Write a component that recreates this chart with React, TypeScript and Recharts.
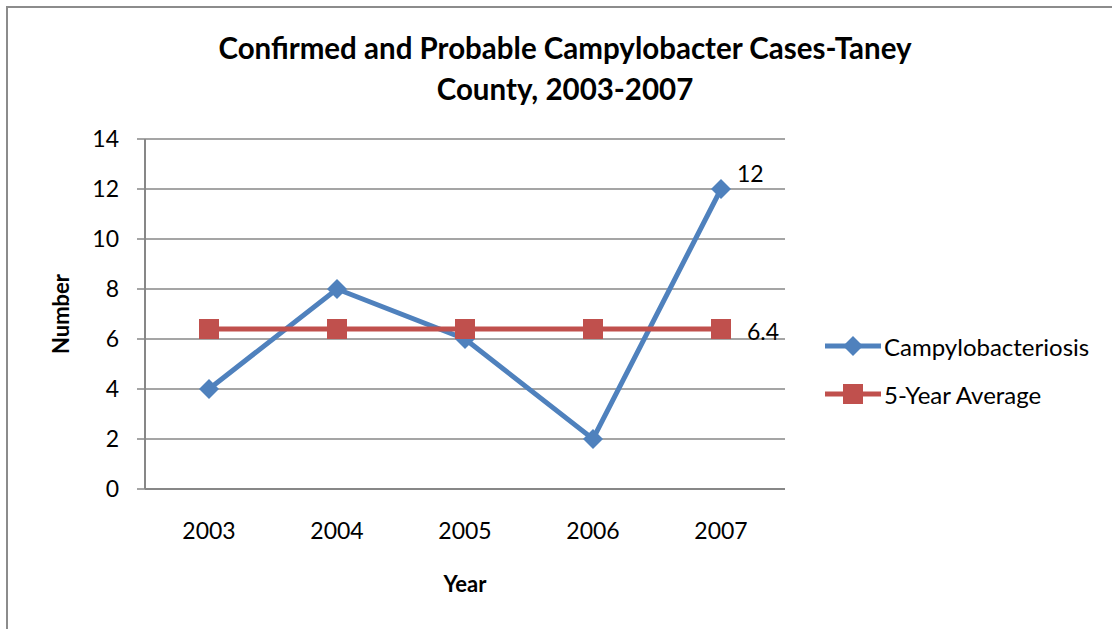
import React from "react";
import { LineChart, Line, XAxis, YAxis, CartesianGrid } from "recharts";

const years = ["2003", "2004", "2005", "2006", "2007"];
const cases = [4, 8, 6, 2, 12];
const fiveYearAvg = [6.4, 6.4, 6.4, 6.4, 6.4];
const yTicks = [0, 2, 4, 6, 8, 10, 12, 14];

const BLUE = "#4F81BD";
const RED = "#C0504D";
const GRAY = "#878787";
const FONT = "Lato, 'Open Sans', sans-serif";

const data = years.map((year, i) => ({
  year,
  cases: cases[i],
  avg: fiveYearAvg[i],
}));

const series = [
  { key: "cases", name: "Campylobacteriosis", color: BLUE, marker: "diamond" },
  { key: "avg", name: "5-Year Average", color: RED, marker: "square" },
];

function Marker({ cx, cy, type, color }: any) {
  if (cx == null || cy == null) return null;
  if (type === "diamond") {
    const r = 10;
    return (
      <polygon
        points={`${cx},${cy - r} ${cx + r},${cy} ${cx},${cy + r} ${cx - r},${cy}`}
        fill={color}
      />
    );
  }
  const s = 10;
  return <rect x={cx - s} y={cy - s} width={s * 2} height={s * 2} fill={color} />;
}

// only the last point carries a value label
const lastLabel = (dx: number, dy: number) => (props: any) => {
  const { x, y, value, index } = props;
  if (index !== years.length - 1) return null;
  return (
    <text
      x={x + dx}
      y={y + dy}
      fontSize={23}
      fontFamily={FONT}
      fill="#000"
      textAnchor="start"
      dominantBaseline="central"
    >
      {value}
    </text>
  );
};

const YLabel = ({ viewBox }: any) => {
  const cx = viewBox.x - 25;
  const cy = viewBox.y + viewBox.height / 2;
  return (
    <text
      x={cx}
      y={cy}
      transform={`rotate(-90, ${cx}, ${cy})`}
      textAnchor="middle"
      dominantBaseline="central"
      fontSize={22}
      fontWeight="bold"
      fontFamily={FONT}
      fill="#000"
    >
      Number
    </text>
  );
};

const XLabel = ({ viewBox }: any) => (
  <text
    x={viewBox.x + viewBox.width / 2}
    y={viewBox.y + 94}
    textAnchor="middle"
    dominantBaseline="central"
    fontSize={22}
    fontWeight="bold"
    fontFamily={FONT}
    fill="#000"
  >
    Year
  </text>
);

export default function App() {
  return (
    <div
      style={{
        position: "absolute",
        left: 0,
        top: 0,
        width: 1112,
        height: 629,
        overflow: "hidden",
        background: "#fff",
        fontFamily: FONT,
      }}
    >
      <div
        style={{
          position: "absolute",
          left: 6,
          top: 6,
          width: 1200,
          height: 700,
          border: "2px solid #8c8c8c",
        }}
      />
      <div
        style={{
          position: "absolute",
          left: 0,
          width: 1130,
          top: 27,
          textAlign: "center",
          fontWeight: "bold",
          fontSize: 29.5,
          lineHeight: "41px",
          color: "#000",
        }}
      >
        Confirmed and Probable Campylobacter Cases-Taney
        <br />
        County, 2003-2007
      </div>

      <div style={{ position: "absolute", left: 0, top: 0 }}>
        <LineChart
          width={1112}
          height={629}
          data={data}
          margin={{ top: 139, right: 327, bottom: 80, left: 85 }}
        >
          <CartesianGrid vertical={false} stroke={GRAY} strokeWidth={1.5} />
          <XAxis
            dataKey="year"
            height={60}
            padding={{ left: 64, right: 64 }}
            axisLine={{ stroke: GRAY, strokeWidth: 2 }}
            tickLine={false}
            tickSize={0}
            tickMargin={34}
            tick={{ fill: "#000", fontSize: 23, fontFamily: FONT }}
            label={<XLabel />}
          />
          <YAxis
            width={60}
            domain={[0, 14]}
            ticks={yTicks}
            interval={0}
            axisLine={{ stroke: GRAY, strokeWidth: 2 }}
            tickLine={{ stroke: GRAY, strokeWidth: 1.5 }}
            tickSize={8}
            tickMargin={18}
            tick={{ fill: "#000", fontSize: 23, fontFamily: FONT }}
            label={<YLabel />}
          />
          <Line
            dataKey="cases"
            stroke={BLUE}
            strokeWidth={5}
            isAnimationActive={false}
            dot={(p: any) => <Marker key={p.index} {...p} type="diamond" color={BLUE} />}
            activeDot={false}
            label={lastLabel(16, -16)}
          />
          <Line
            dataKey="avg"
            stroke={RED}
            strokeWidth={5}
            isAnimationActive={false}
            dot={(p: any) => <Marker key={p.index} {...p} type="square" color={RED} />}
            activeDot={false}
            label={lastLabel(26, 2)}
          />
        </LineChart>
      </div>

      <div style={{ position: "absolute", left: 823, top: 322 }}>
        {series.map((s) => (
          <div
            key={s.key}
            style={{ display: "flex", alignItems: "center", height: 48 }}
          >
            <svg width={60} height={24}>
              <line x1={2} y1={12} x2={58} y2={12} stroke={s.color} strokeWidth={5} />
              <Marker cx={30} cy={12} type={s.marker} color={s.color} />
            </svg>
            <span style={{ fontSize: 24, color: "#000", marginLeft: 1 }}>{s.name}</span>
          </div>
        ))}
      </div>
    </div>
  );
}
